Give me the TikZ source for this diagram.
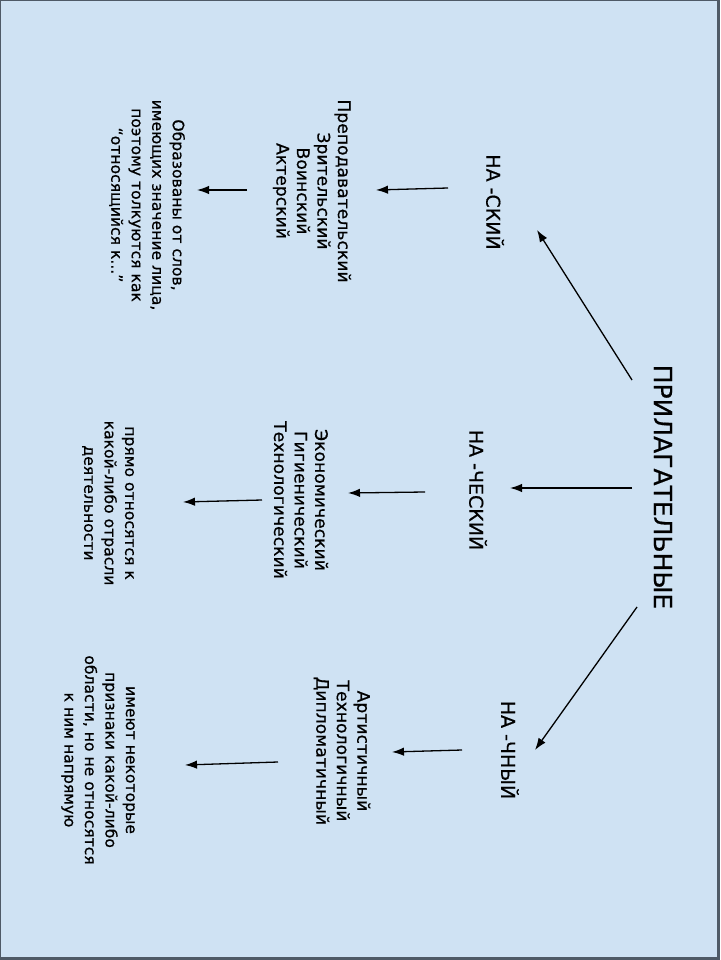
\documentclass[tikz,border=0pt]{standalone}
\usepackage{fontspec}
\setmainfont[RawFeature={embolden=0.6}]{DejaVu Sans}
\usetikzlibrary{arrows.meta,calc}
\definecolor{bgblue}{HTML}{CFE2F3}
\definecolor{frame}{HTML}{4F5A66}
\tikzset{
  vtext/.style={rotate=-90,align=center,inner sep=0pt,text=black},
  arr/.style={-{Latex[length=12pt,width=8.5pt]},line width=1.3pt,black}
}
\begin{document}
\begin{tikzpicture}[x=1pt,y=-1pt]
\useasboundingbox (0,0) rectangle (720,960);
\fill[frame] (0,0) rectangle (720,960);
\fill[bgblue] (1.2,1.2) rectangle (716.5,957);

\node[vtext,font=\fontsize{25}{28}\selectfont] (title) at (663,487) {ПРИЛАГАТЕЛЬНЫЕ};
\node[vtext,font=\fontsize{19}{22}\selectfont] (skiy) at (495,202) {НА -СКИЙ};
\node[vtext,font=\fontsize{19}{22}\selectfont] (chesk) at (478,490) {НА -ЧЕСКИЙ};
\node[vtext,font=\fontsize{19}{22}\selectfont] (chny) at (510,750) {НА -ЧНЫЙ};

\node[vtext,font=\fontsize{17.2}{20.5}\selectfont] (l1) at (312,191) {Преподавательский\\Зрительский\\Воинский\\Актерский};
\node[vtext,font=\fontsize{17.2}{20.5}\selectfont] (l2) at (301,500) {Экономический\\Гигиенический\\Технологический};
\node[vtext,font=\fontsize{17.2}{20.5}\selectfont] (l3) at (342,751) {Артистичный\\Технологичный\\Дипломатичный};

\node[vtext,font=\fontsize{15.6}{20.5}\selectfont] (t1) at (147,205) {Образованы от слов,\\имеющих значение лица,\\поэтому толкуются как\\“относящийся к...”};
\node[vtext,font=\fontsize{15.6}{20.5}\selectfont] (t2) at (108,503) {прямо относятся к\\какой-либо отрасли\\деятельности};
\node[vtext,font=\fontsize{15.6}{20.5}\selectfont] (t3) at (98,760) {имеют некоторые\\признаки какой-либо\\области, но не относятся\\к ним напрямую};

\draw[arr] ($(title.center)+(-31,-107)$) -- ($(skiy.center)+(42,28)$);
\draw[arr] ($(title.center)+(-31,1)$) -- ($(chesk.center)+(32,-2)$);
\draw[arr] ($(title.center)+(-26,120)$) -- ($(chny.center)+(25,0)$);

\draw[arr] ($(skiy.center)+(-47,-14)$) -- ($(l1.center)+(64,-1)$);
\draw[arr] ($(chesk.center)+(-53,2)$) -- ($(l2.center)+(47,-7)$);
\draw[arr] ($(chny.center)+(-48,0)$) -- ($(l3.center)+(50,1)$);

\draw[arr] ($(l1.center)+(-65,-1)$) -- ($(t1.center)+(50,-15)$);
\draw[arr] ($(l2.center)+(-39,0)$) -- ($(t2.center)+(75,-1)$);
\draw[arr] ($(l3.center)+(-64,11)$) -- ($(t3.center)+(87,5)$);
\end{tikzpicture}
\end{document}
